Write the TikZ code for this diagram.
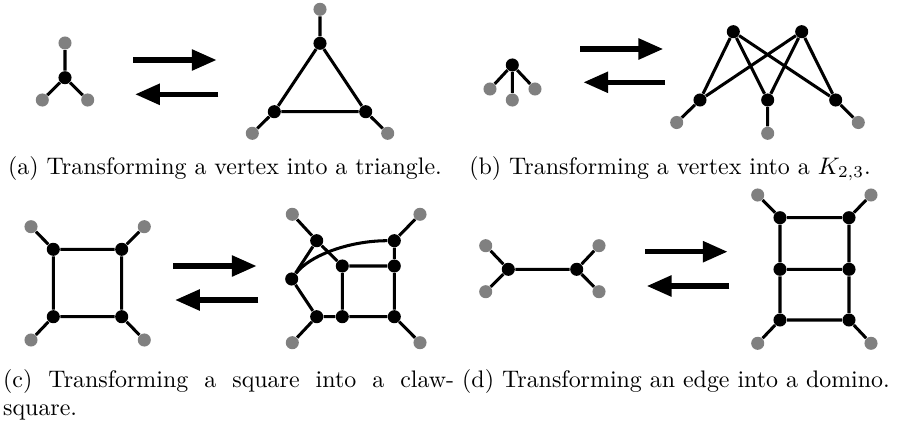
\documentclass[tikz,border=0pt]{standalone}
\usetikzlibrary{arrows.meta}
\begin{document}
\begin{tikzpicture}[x=0.418pt,y=-0.418pt,
  bv/.style={circle,fill=black,inner sep=0pt,minimum size=5.47pt},
  gv/.style={circle,fill=gray,inner sep=0pt,minimum size=5.47pt},
  ed/.style={line width=1.27pt},
  tr/.style={line width=2.23pt,-{Triangle[length=10.4pt,width=8.4pt]}},
  captxt/.style={inner sep=0pt,anchor=base}]
\useasboundingbox (0,0) rectangle (899,424);
% ---------- (a) ----------
\node[bv] (a0) at (65,77.7) {};
\node[gv] (a1) at (65,43) {};
\node[gv] (a2) at (42.3,100) {};
\node[gv] (a3) at (87.7,100) {};
\draw[ed] (a0) -- (a1) (a0) -- (a2) (a0) -- (a3);
\coordinate (ar1s) at (133.3,60); \coordinate (ar1e) at (216.7,60);
\coordinate (al1s) at (218.3,94.3); \coordinate (al1e) at (135,94.3);
\draw[tr] (ar1s) -- (ar1e);
\draw[tr] (al1s) -- (al1e);
\node[bv] (t1) at (320,43.3) {};
\node[bv] (t2) at (274.3,111.7) {};
\node[bv] (t3) at (365.7,111.7) {};
\node[gv] (tg1) at (320,9.3) {};
\node[gv] (tg2) at (252.3,133.3) {};
\node[gv] (tg3) at (387.7,133.3) {};
\draw[ed] (t1) -- (t2) (t2) -- (t3) (t3) -- (t1)
  (t1) -- (tg1) (t2) -- (tg2) (t3) -- (tg3);
\node[captxt] (capa) at (225,174) {(a) Transforming a vertex into a triangle.};
% ---------- (b) ----------
\node[bv] (b0) at (512.3,65) {};
\node[gv] (b1) at (490,89) {};
\node[gv] (b2) at (512.3,100) {};
\node[gv] (b3) at (535,89) {};
\draw[ed] (b0) -- (b1) (b0) -- (b2) (b0) -- (b3);
\coordinate (ar2s) at (580,49); \coordinate (ar2e) at (663.3,49);
\coordinate (al2s) at (665,82.3); \coordinate (al2e) at (583.3,82.3);
\draw[tr] (ar2s) -- (ar2e);
\draw[tr] (al2s) -- (al2e);
\node[bv] (k1) at (733.3,31.7) {};
\node[bv] (k2) at (801.7,31.7) {};
\node[bv] (k3) at (700,100) {};
\node[bv] (k4) at (767.7,100) {};
\node[bv] (k5) at (835.7,100) {};
\node[gv] (kg3) at (676.7,122.5) {};
\node[gv] (kg4) at (767.7,133.3) {};
\node[gv] (kg5) at (858.3,122.5) {};
\draw[ed] (k1) -- (k3) (k1) -- (k4) (k1) -- (k5)
  (k2) -- (k3) (k2) -- (k4) (k2) -- (k5)
  (k3) -- (kg3) (k4) -- (kg4) (k5) -- (kg5);
\node[captxt] (capb) at (670,174) {(b) Transforming a vertex into a $K_{2,3}$.};
% ---------- (c) ----------
\node[bv] (s1) at (53.3,249.3) {};
\node[bv] (s2) at (121.7,249.3) {};
\node[bv] (s3) at (53.3,316.7) {};
\node[bv] (s4) at (121.7,316.7) {};
\node[gv] (sg1) at (31,226.7) {};
\node[gv] (sg2) at (144.3,226.7) {};
\node[gv] (sg3) at (31,340) {};
\node[gv] (sg4) at (144.3,340) {};
\draw[ed] (s1) -- (s2) (s2) -- (s4) (s4) -- (s3) (s3) -- (s1)
  (s1) -- (sg1) (s2) -- (sg2) (s3) -- (sg3) (s4) -- (sg4);
\coordinate (ar3s) at (173.3,266); \coordinate (ar3e) at (256.7,266);
\coordinate (al3s) at (258.3,300); \coordinate (al3e) at (175,300);
\draw[tr] (ar3s) -- (ar3e);
\draw[tr] (al3s) -- (al3e);
\node[bv] (ca) at (316.7,240.7) {};
\node[bv] (cb) at (394.3,240.7) {};
\node[bv] (cc) at (342.3,266) {};
\node[bv] (cd) at (394.3,266) {};
\node[bv] (ce) at (291.7,279) {};
\node[bv] (cf) at (316.7,316.7) {};
\node[bv] (cg) at (342.3,316.7) {};
\node[bv] (ch) at (394.3,316.7) {};
\node[gv] (cga) at (292.3,214.3) {};
\node[gv] (cgb) at (420,214.3) {};
\node[gv] (cgf) at (292.3,342.7) {};
\node[gv] (cgh) at (420,342.7) {};
\draw[ed] (ca) -- (cga) (cb) -- (cgb) (cf) -- (cgf) (ch) -- (cgh)
  (ca) -- (cc) (ca) -- (ce) (cb) -- (cd) (cc) -- (cd) (cc) -- (cg)
  (cd) -- (ch) (ce) -- (cf) (cf) -- (cg) (cg) -- (ch);
\draw[ed] (ce) .. controls (310,255) and (350,240.7) .. (cb);
\node[inner sep=0pt,anchor=base west,text width=188.5pt,align=justify] (capc) at (2.7,387)
  {(c) Transforming a square into a claw-\linebreak square.};
% ---------- (d) ----------
\node[bv] (e1) at (508.3,269.3) {};
\node[bv] (e2) at (576.7,269.3) {};
\node[gv] (eg1) at (485.7,245.7) {};
\node[gv] (eg2) at (485.7,291.7) {};
\node[gv] (eg3) at (599,245.7) {};
\node[gv] (eg4) at (599,291.7) {};
\draw[ed] (e1) -- (e2) (e1) -- (eg1) (e1) -- (eg2) (e2) -- (eg3) (e2) -- (eg4);
\coordinate (ar4s) at (645,251.7); \coordinate (ar4e) at (727.7,251.7);
\coordinate (al4s) at (729.3,286); \coordinate (al4e) at (646.7,286);
\draw[tr] (ar4s) -- (ar4e);
\draw[tr] (al4s) -- (al4e);
\node[bv] (d1) at (780,217.7) {};
\node[bv] (d2) at (849,217.7) {};
\node[bv] (d3) at (780,269.3) {};
\node[bv] (d4) at (849,269.3) {};
\node[bv] (d5) at (780,320) {};
\node[bv] (d6) at (849,320) {};
\node[gv] (dg1) at (757.7,195) {};
\node[gv] (dg2) at (871,195) {};
\node[gv] (dg5) at (757.7,343.3) {};
\node[gv] (dg6) at (871,343.3) {};
\draw[ed] (d1) -- (d2) (d3) -- (d4) (d5) -- (d6)
  (d1) -- (d3) (d3) -- (d5) (d2) -- (d4) (d4) -- (d6)
  (d1) -- (dg1) (d2) -- (dg2) (d5) -- (dg5) (d6) -- (dg6);
\node[inner sep=0pt,anchor=base west] (capd) at (461.7,387)
  {(d) Transforming an edge into a domino.};
\end{tikzpicture}
\end{document}
